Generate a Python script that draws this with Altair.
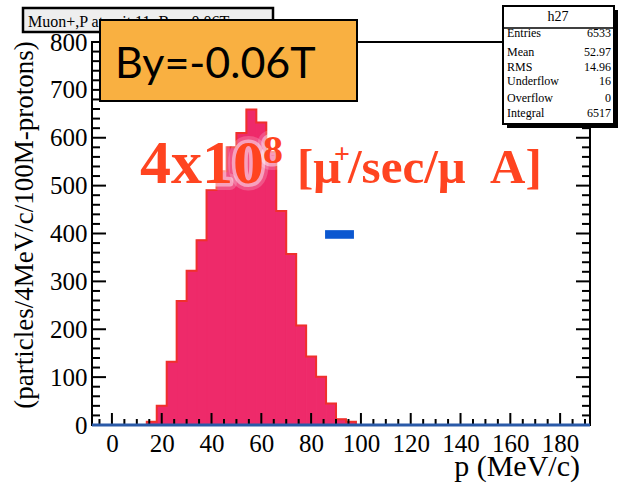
import altair as alt
import pandas as pd

# ---------------- data ----------------
bin_lo = [14, 18, 22, 26, 30, 34, 38, 42, 46, 50, 54, 58, 62, 66, 70, 74, 78, 82, 86, 90, 94]
counts = [7, 40, 132, 259, 322, 386, 491, 530, 580, 610, 659, 632, 570, 447, 357, 208, 143, 101, 45, 12, 7]
bin_width = 4

x_labels = [0, 20, 40, 60, 80, 100, 120, 140, 160, 180]
y_labels = [0, 100, 200, 300, 400, 500, 600, 700, 800]
x_minor = [v for v in range(-5, 191, 5) if v % 20 != 0]
y_minor = [v for v in range(0, 801, 20) if v % 100 != 0]

marker_x = [85.6, 97.2]
marker_y = [389, 407]

stat_names = ["Entries", "Mean", "RMS", "Underflow", "Overflow", "Integral"]
stat_values = ["6533", "52.97", "14.96", "16", "0", "6517"]

# ---------------- layout ----------------
W, H = 498, 383
SERIF = "Liberation Serif"
PINK = "#ee2a6a"
RED_LINE = "#f0302c"
BLUE = "#2a5aa8"
TXT_RED = "#ff4420"

xs = alt.Scale(domain=[-8, 192], nice=False, zero=False)
ys = alt.Scale(domain=[0, 800], nice=False)
xax = alt.Axis(values=x_labels, ticks=False, tickSize=0, domain=False, grid=False,
               labelFont=SERIF, labelFontSize=25, labelColor="black", labelPadding=6,
               labelFlush=False, labelOverlap=False, title=None)
yax = alt.Axis(values=y_labels, ticks=False, tickSize=0, domain=False, grid=False,
               labelFont=SERIF, labelFontSize=25, labelColor="black", labelPadding=5,
               labelOverlap=False, title=None)

hist = pd.DataFrame({"lo": bin_lo, "hi": [b + bin_width for b in bin_lo], "n": counts})
step_x = [bin_lo[0]] + bin_lo + [bin_lo[-1] + bin_width]
step_y = [0] + counts + [0]
step = pd.DataFrame({"x": step_x, "y": step_y, "i": list(range(len(step_x)))})
one = pd.DataFrame({"k": [0]})

bars = alt.Chart(hist).mark_rect(color=PINK, stroke=PINK, strokeWidth=1, opacity=1).encode(
    x=alt.X("lo:Q", scale=xs, axis=xax), x2="hi:Q",
    y=alt.Y("n:Q", scale=ys, axis=yax), y2=alt.Y2(datum=0))

outline = alt.Chart(step).mark_line(color=RED_LINE, strokeWidth=2, interpolate="step-after").encode(
    x=alt.X("x:Q", scale=xs, axis=xax), y=alt.Y("y:Q", scale=ys, axis=yax), order="i:Q")

baseline = alt.Chart(one).mark_rule(color=BLUE, strokeWidth=3).encode(
    y=alt.Y(datum=0, scale=ys, axis=yax))

marker = alt.Chart(pd.DataFrame({"x0": [marker_x[0]], "x1": [marker_x[1]],
                                 "y0": [marker_y[0]], "y1": [marker_y[1]]})).mark_rect(color="#0b57d0").encode(
    x=alt.X("x0:Q", scale=xs, axis=xax), x2="x1:Q",
    y=alt.Y("y0:Q", scale=ys, axis=yax), y2="y1:Q")

def yticks(vals, length):
    d = pd.DataFrame({"v": vals})
    left = alt.Chart(d).mark_rule(color="black", strokeWidth=2).encode(
        y=alt.Y("v:Q", scale=ys, axis=yax), x=alt.value(0), x2=alt.value(length))
    right = alt.Chart(d).mark_rule(color="black", strokeWidth=2).encode(
        y=alt.Y("v:Q", scale=ys, axis=yax), x=alt.value(W), x2=alt.value(W - length))
    return [left, right]

def xticks(vals, length):
    d = pd.DataFrame({"v": vals})
    return [alt.Chart(d).mark_rule(color="black", strokeWidth=2).encode(
        x=alt.X("v:Q", scale=xs, axis=xax), y=alt.value(H), y2=alt.value(H - length))]

ticks = yticks(y_labels, 14) + yticks(y_minor, 8) + xticks(x_labels, 12) + xticks(x_minor, 6)

def box(x0, x1, y0, y1, fill, stroke="black", sw=2):
    return alt.Chart(one).mark_rect(fill=fill, stroke=stroke, strokeWidth=sw).encode(
        x=alt.value(x0), x2=alt.value(x1), y=alt.value(y0), y2=alt.value(y1))

def text(s, x, y, size, font=SERIF, color="black", weight="normal", align="left",
         baseline="alphabetic", angle=0, **kw):
    return alt.Chart(one).mark_text(text=s, font=font, fontSize=size, color=color,
                                    fontWeight=weight, align=align, baseline=baseline,
                                    angle=angle, **kw).encode(
        x=alt.value(x), y=alt.value(y))

annot = []
# title box (partially hidden)
annot.append(box(-69, 181, -34, -10, "#eeeeee", sw=2.5))
annot.append(text("Muon+,P at exit 11, By=-0.06T", -64, -15, 16))
# orange box
annot.append(box(8, 265, -22, 59, "#f9b041", sw=2))
annot.append(text("By=-0.06T", 23, 36, 43, font="Lato"))
# stats box
annot.append(box(415, 527, -32, 86, "black", sw=0))
annot.append(box(411, 522, -36, 82, "white", sw=2))
annot.append(alt.Chart(one).mark_rule(color="black", strokeWidth=1.5).encode(
    x=alt.value(411), x2=alt.value(522), y=alt.value(-14)))
annot.append(text("h27", 466, -21, 14, align="center"))
row_y = [-5, 14, 29, 43, 60, 75]
for name, val, yy in zip(stat_names, stat_values, row_y):
    annot.append(text(name, 415, yy, 12))
    annot.append(text(val, 519, yy, 12, align="right"))

# red annotation with a soft white glow (halo strokes underneath, red text on top)
red_parts = [("4x10", 48, 141, 62), ("8", 171, 121, 40), ("[\u03bc", 205, 141, 49),
             ("+", 242, 121, 28), ("/sec/\u03bc\u2002A]", 256, 141, 49)]
for sw, so in [(14, 0.2), (7, 0.45)]:
    for s, x, y, sz in red_parts:
        annot.append(text(s, x, y, sz, color="white", weight="bold", stroke="white",
                          strokeWidth=sw, strokeOpacity=so, fillOpacity=0.0,
                          strokeJoin="round"))
for s, x, y, sz in red_parts:
    annot.append(text(s, x, y, sz, color=TXT_RED, weight="bold"))

# axis titles
annot.append(text("(particles/4MeV/c/100M-protons)", -67, 183, 27, align="center",
                  baseline="middle", angle=270))
annot.append(text("p (MeV/c)", 488, 434, 30, align="right"))

chart = alt.layer(bars, outline, marker, *ticks, baseline, *annot).properties(
    width=W, height=H,
    autosize=alt.AutoSizeParams(type="none"),
    padding={"left": 92, "top": 42, "right": 28, "bottom": 61},
    background="white",
).configure_view(stroke="black", strokeWidth=2)

chart.save("out.html", embed_options={"renderer": "svg", "actions": False})
